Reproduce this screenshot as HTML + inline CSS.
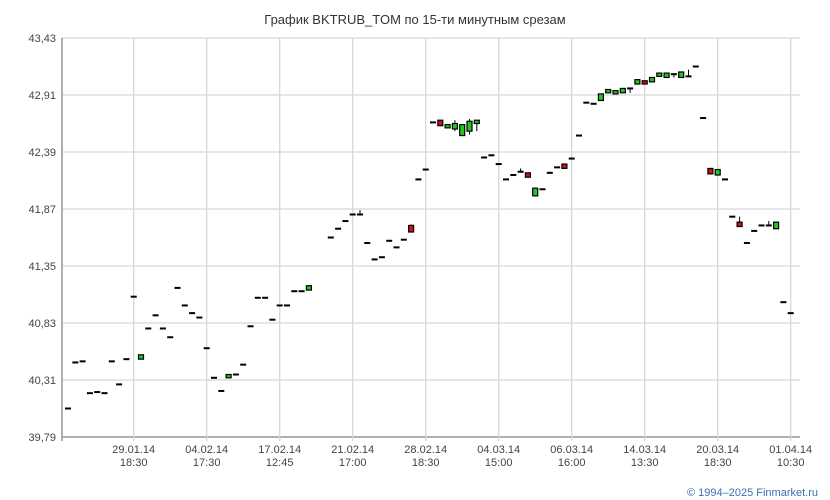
<!DOCTYPE html>
<html><head><meta charset="utf-8"><style>
body{margin:0;background:#fff;font-family:"Liberation Sans",Verdana,sans-serif}
svg{display:block}
</style></head><body>
<svg id="c" width="830" height="500" xmlns="http://www.w3.org/2000/svg">
<text x="415" y="24" text-anchor="middle" font-size="13" fill="#333">График BKTRUB_TOM по 15-ти минутным срезам</text>
<text x="818" y="496" text-anchor="end" font-size="11" fill="#3a6fb0">© 1994–2025 Finmarket.ru</text>
<g id="grid"></g><g id="marks"></g>
</svg>
<script>
const yTicks=[39.79,40.31,40.83,41.35,41.87,42.39,42.91,43.43];
const xLabelSlots=[9,19,29,39,49,59,69,79,89,99];
const xLabelDates=["29.01.14","04.02.14","17.02.14","21.02.14","28.02.14","04.03.14","06.03.14","14.03.14","20.03.14","01.04.14"];
const xLabelTimes=["18:30","17:30","12:45","17:00","18:30","15:00","16:00","13:30","18:30","10:30"];
const closes=[40.05,40.47,40.48,40.19,40.20,40.19,40.48,40.27,40.50,41.07,
40.54,40.78,40.90,40.78,40.70,41.15,40.99,40.92,40.88,40.60,
40.33,40.21,40.36,40.36,40.45,40.80,41.06,41.06,40.86,40.99,
40.99,41.12,41.12,41.17,null,null,41.61,41.69,41.76,41.82,
41.82,41.56,41.41,41.43,41.58,41.52,41.59,41.66,42.14,42.23,
42.66,42.63,42.64,42.65,42.64,42.67,42.68,42.34,42.36,42.28,
42.14,42.18,42.21,42.16,42.06,42.05,42.20,42.25,42.24,42.33,
42.54,42.84,42.83,42.92,42.96,42.95,42.97,42.97,43.05,43.01,
43.07,43.11,43.11,43.10,43.12,43.08,43.17,42.70,42.19,42.23,
42.14,41.80,41.71,41.56,41.67,41.72,41.72,41.75,41.02,40.92];
const opens={10:40.50,22:40.33,33:41.13,47:41.72,51:42.68,52:42.61,53:42.60,54:42.54,55:42.58,56:42.65,
63:42.20,64:41.99,68:42.28,73:42.86,74:42.93,75:42.92,76:42.93,78:43.01,79:43.04,
80:43.03,81:43.08,82:43.07,84:43.07,88:42.24,89:42.18,92:41.75,97:41.69};
const highs={40:41.86,47:41.73,53:42.68,55:42.69,62:42.24,85:43.14,92:41.80,96:41.76};
const lows={53:42.58,55:42.55,56:42.58,77:42.93,83:43.07};
const L=62,R=800,T=38,B=437,ymin=39.79,ymax=43.43;
const X=i=>68+7.3*i;
const Y=v=>B-(v-ymin)/(ymax-ymin)*(B-T);
const NS="http://www.w3.org/2000/svg";
function mk(tag,attrs,parent){const e=document.createElementNS(NS,tag);for(const k in attrs)e.setAttribute(k,attrs[k]);parent.appendChild(e);return e;}
const g=document.getElementById('grid'),m=document.getElementById('marks');
yTicks.forEach((v,i)=>{
 const ln=mk('line',{x1:L,x2:R,y1:Y(v),y2:Y(v),stroke:i==0?'#aab0b5':'#d3d8dc','stroke-width':i==0?2:1.3},g);
 
 
 const t=mk('text',{x:56,y:Y(v)+4,'text-anchor':'end','font-size':11,fill:'#444'},g);
 t.textContent=v.toFixed(2).replace('.',',');
 
 
});
const ax=mk('line',{x1:L,x2:L,y1:T,y2:B+4,stroke:'#aab0b5','stroke-width':2},g);


xLabelSlots.forEach((s,i)=>{
 const x=X(s);
 const ln=mk('line',{x1:x,x2:x,y1:T,y2:B+4,stroke:'#d3d8dc','stroke-width':1.3},g);
 
 
 const t1=mk('text',{x:x,y:453,'text-anchor':'middle','font-size':11,fill:'#444'},g);
 t1.textContent=xLabelDates[i];
 
 
 const t2=mk('text',{x:x,y:466,'text-anchor':'middle','font-size':11,fill:'#444'},g);
 t2.textContent=xLabelTimes[i];
 
 
});
closes.forEach((c,i)=>{
 if(c==null)return;
 const o=(i in opens)?opens[i]:c;
 const hi=(i in highs)?highs[i]:Math.max(o,c);
 const lo=(i in lows)?lows[i]:Math.min(o,c);
 const x=X(i);
 if(hi>Math.max(o,c)||lo<Math.min(o,c)){
  const w=mk('line',{x1:x,x2:x,y1:Y(hi),y2:Y(lo),stroke:'#000','stroke-width':1},m);
  
  
 }
 if(Math.abs(o-c)<0.005){
  const d=mk('rect',{x:x-3,y:Y(c)-1,width:6,height:2,fill:'#000'},m);
  
  
 }else{
  const top=Y(Math.max(o,c)),bot=Y(Math.min(o,c));
  const r=mk('rect',{x:x-2.5,y:top,width:5,height:Math.max(bot-top,3),fill:c>o?'#1ec81e':'#d01010',stroke:'#000','stroke-width':1.2},m);
  
  
 }
});
</script>
</body></html>
